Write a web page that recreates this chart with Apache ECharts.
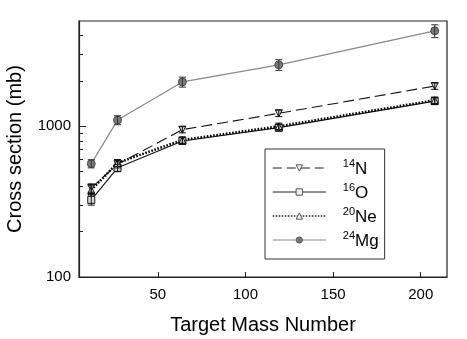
<!DOCTYPE html>
<html>
<head>
<meta charset="utf-8">
<script src="https://cdn.jsdelivr.net/npm/echarts@6/dist/echarts.min.js"></script>
<style>
  html, body { margin: 0; padding: 0; background: #fff; }
  #chart { width: 467px; height: 339px; }
</style>
</head>
<body>
<div id="chart"></div>
<script>
// target mass numbers (C, Al, Cu, Sn, Pb)
var targetMass = [12, 27, 64, 119, 208];

// cross sections in mb
var sigmaN = [390, 560, 950, 1220, 1850];
var sigmaO = [325, 530, 800, 980, 1470];
var sigmaNe = [378, 572, 812, 1000, 1490];
var sigmaMg = [565, 1100, 1970, 2560, 4300];

// error bars (+/- mb)
var errN = [25, 30, 45, 60, 90];
var errO = [25, 30, 40, 50, 75];
var errNe = [25, 30, 40, 50, 75];
var errMg = [35, 75, 150, 210, 420];

var xTicks = [50, 100, 150, 200];
var yLabels = [100, 1000];
var yMinorTicks = [200, 300, 400, 500, 600, 700, 800, 900, 2000, 3000, 4000];

var fontName = "Liberation Sans";
var axisColor = "#222";

function pairs(ys) {
    var out = [];
    for (var i = 0; i < targetMass.length; i++) {
        out.push([targetMass[i], ys[i]]);
    }
    return out;
}

function errData(ys, errs) {
    var out = [];
    for (var i = 0; i < targetMass.length; i++) {
        out.push([targetMass[i], ys[i] - errs[i], ys[i] + errs[i]]);
    }
    return out;
}

function errSeries(ys, errs, color) {
    return {
        type: "custom",
        data: errData(ys, errs),
        encode: { x: 0, y: [1, 2] },
        z: 4,
        silent: true,
        renderItem: function (params, api) {
            var top = api.coord([api.value(0), api.value(2)]);
            var bot = api.coord([api.value(0), api.value(1)]);
            var w = 3.5;
            var st = { stroke: color, lineWidth: 1 };
            return {
                type: "group",
                children: [
                    { type: "line", shape: { x1: top[0], y1: top[1], x2: bot[0], y2: bot[1] }, style: st },
                    { type: "line", shape: { x1: top[0] - w, y1: top[1], x2: top[0] + w, y2: top[1] }, style: st },
                    { type: "line", shape: { x1: bot[0] - w, y1: bot[1], x2: bot[0] + w, y2: bot[1] }, style: st }
                ]
            };
        }
    };
}

// legend entries: thin strokes, small open markers
var legendItems = [
    { name: "14N", lineStyle: { width: 1, type: [9, 5], color: "#222" }, itemStyle: { color: "#eee", borderColor: "#333", borderWidth: 0.8 } },
    { name: "16O", lineStyle: { width: 1, type: "solid", color: "#222" }, itemStyle: { color: "#eee", borderColor: "#333", borderWidth: 0.8 } },
    { name: "20Ne", lineStyle: { width: 1.6, type: [1.5, 1.5], color: "#222" }, itemStyle: { color: "#eee", borderColor: "#333", borderWidth: 0.8 } },
    { name: "24Mg", lineStyle: { width: 1, type: "solid", color: "#888" }, itemStyle: { color: "#777", borderColor: "#444", borderWidth: 0.6 } }
];

var chart = echarts.init(document.getElementById("chart"), null, { renderer: "canvas" });

var option = {
    animation: false,
    backgroundColor: "#fff",
    textStyle: { fontFamily: fontName },
    grid: {
        left: 79, right: 20, top: 21, bottom: 62,
        outerBoundsMode: "none",
        containLabel: false,
        show: true, borderColor: axisColor, borderWidth: 1.2
    },
    legend: {
        orient: "vertical",
        left: 265, top: 149,
        padding: [9, 6, 9, 7],
        itemWidth: 53, itemHeight: 8, itemGap: 4,
        borderColor: "#333", borderWidth: 1,
        backgroundColor: "#fff",
        data: legendItems,
        formatter: function (name) {
            return name.replace(/^(\d+)(.*)$/, "{s|$1}{m|$2}");
        },
        textStyle: {
            padding: [0, 0, 0, 12],
            rich: {
                s: { fontSize: 11, fontFamily: fontName, color: "#000", verticalAlign: "top", lineHeight: 20 },
                m: { fontSize: 17, fontFamily: fontName, color: "#000", verticalAlign: "bottom", lineHeight: 20 }
            }
        }
    },
    xAxis: {
        type: "value",
        min: 5, max: 215,
        name: "Target Mass Number",
        nameLocation: "middle",
        nameGap: 38,
        nameTextStyle: { fontSize: 20, color: "#000", fontFamily: fontName },
        axisLine: { show: true, lineStyle: { color: axisColor, width: 1.2 } },
        axisTick: { show: true, inside: true, length: 5, customValues: xTicks, lineStyle: { color: axisColor } },
        axisLabel: { customValues: xTicks, fontSize: 15, color: "#000", margin: 10, fontFamily: fontName },
        splitLine: { show: false }
    },
    yAxis: [{
        type: "log",
        logBase: 10,
        min: 100, max: 5000,
        name: "Cross section (mb)",
        nameLocation: "middle",
        nameGap: 54,
        nameTextStyle: { fontSize: 20, color: "#000", fontFamily: fontName },
        axisLine: { show: true, lineStyle: { color: axisColor, width: 1.2 } },
        axisTick: { show: true, inside: true, length: 7, customValues: yLabels, lineStyle: { color: axisColor } },
        axisLabel: {
            customValues: yLabels, fontSize: 15, color: "#000", margin: 8, fontFamily: fontName,
            formatter: function (v) { return String(Math.round(v)); }
        },
        splitLine: { show: false }
    }, {
        // minor ticks only
        type: "log",
        logBase: 10,
        min: 100, max: 5000,
        position: "left",
        axisLine: { show: false },
        axisTick: { show: true, inside: true, length: 4, customValues: yMinorTicks, lineStyle: { color: axisColor } },
        axisLabel: { show: false },
        splitLine: { show: false }
    }],
    series: [{
        name: "14N",
        type: "line",
        data: pairs(sigmaN),
        symbol: "triangle",
        symbolRotate: 180,
        symbolSize: 7,
        z: 3,
        lineStyle: { color: "#111", width: 1.1, type: [11, 5] },
        itemStyle: { color: "#ddd", borderColor: "#111", borderWidth: 1 }
    }, {
        name: "16O",
        type: "line",
        data: pairs(sigmaO),
        symbol: "rect",
        symbolSize: 7,
        z: 3,
        lineStyle: { color: "#111", width: 1.1, type: "solid" },
        itemStyle: { color: "#ddd", borderColor: "#111", borderWidth: 1 }
    }, {
        name: "20Ne",
        type: "line",
        data: pairs(sigmaNe),
        symbol: "triangle",
        symbolSize: 7,
        z: 3,
        lineStyle: { color: "#000", width: 2.5, type: [1.6, 1.6] },
        itemStyle: { color: "#ddd", borderColor: "#111", borderWidth: 1 }
    }, {
        name: "24Mg",
        type: "line",
        data: pairs(sigmaMg),
        symbol: "circle",
        symbolSize: 8,
        z: 3,
        lineStyle: { color: "#8a8a8a", width: 1.2, type: "solid" },
        itemStyle: { color: "#7a7a7a", borderColor: "#333", borderWidth: 0.8 }
    },
    errSeries(sigmaN, errN, "#111"),
    errSeries(sigmaO, errO, "#111"),
    errSeries(sigmaNe, errNe, "#111"),
    errSeries(sigmaMg, errMg, "#333")
    ]
};

chart.setOption(option);
</script>
</body>
</html>
